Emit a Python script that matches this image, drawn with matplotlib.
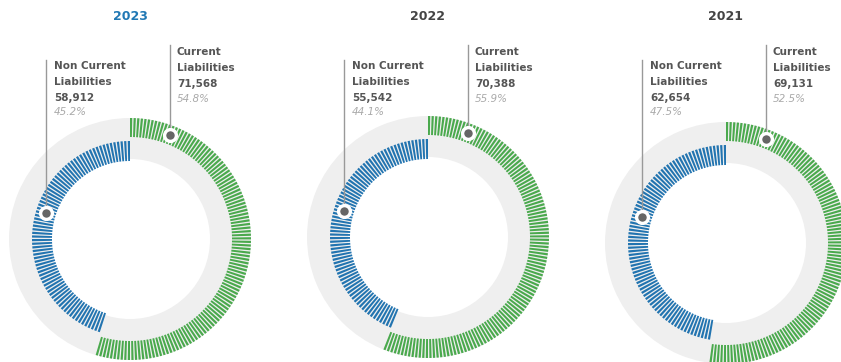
import numpy as np
import matplotlib
matplotlib.use("Agg")
import matplotlib.pyplot as plt
from matplotlib.patches import Wedge
from matplotlib.collections import PatchCollection

W, H = 841, 362

years          = ["2023", "2022", "2021"]
current        = [71568, 70388, 69131]
noncurrent     = [58912, 55542, 62654]
current_pct    = [54.8, 55.9, 52.5]
noncurrent_pct = [45.2, 44.1, 47.5]

# layout in pixels, measured from top-left
centers   = [(130, 239), (428, 237), (726, 243)]
title_col = ["#2178b4", "#444444", "#444444"]

GREEN = "#4aa94d"
BLUE  = "#2274b0"
RING  = "#efefef"
TXT   = "#555555"
PCT   = "#aaaaaa"

R_OUT, R_IN = 121, 80
G_OUT, G_IN = 121, 102
B_OUT, B_IN = 98, 78
G_STEP = 360 / 210
B_STEP = 360 / 168

fig = plt.figure(figsize=(W / 100, H / 100), dpi=100)
ax = fig.add_axes([0, 0, 1, 1])
ax.set_xlim(0, W)
ax.set_ylim(0, H)
ax.set_aspect("equal")
ax.axis("off")


def stripes(cx, cy, pct, step, r_out, r_in, sign, color):
    span = pct / 100 * 360
    starts = np.arange(0, span - step * 0.3, step)
    pats = []
    for a in starts:
        a0 = sign * a
        a1 = sign * (a + step * 0.62)
        t1, t2 = sorted([90 - a0, 90 - a1])
        pats.append(Wedge((cx, cy), r_out, t1, t2, width=r_out - r_in))
    ax.add_collection(PatchCollection(pats, facecolor=color, edgecolor="none"))


for i, yr in enumerate(years):
    cx, cyp = centers[i]
    cy = H - cyp

    ax.text(cx, H - 17, yr, ha="center", va="center", fontsize=9,
            fontweight="bold", color=title_col[i])

    ax.add_patch(Wedge((cx, cy), R_OUT, 0, 360, width=R_OUT - R_IN,
                       facecolor=RING, edgecolor="none"))
    stripes(cx, cy, current_pct[i], G_STEP, G_OUT, G_IN, 1, GREEN)
    stripes(cx, cy, noncurrent_pct[i], B_STEP, B_OUT, B_IN, -1, BLUE)

    # leader dots and lines
    rg = (G_OUT + G_IN) / 2
    gx = cx + 40
    gy = cy + np.sqrt(rg ** 2 - 40 ** 2)
    rb = (B_OUT + B_IN) / 2
    bx = cx - 84
    by = cy + np.sqrt(rb ** 2 - 84 ** 2)

    ax.plot([gx, gx], [gy, H - 45], color="#999999", lw=1, zorder=3)
    ax.plot([bx, bx], [by, H - 60], color="#999999", lw=1, zorder=3)
    for px, py in [(gx, gy), (bx, by)]:
        ax.plot(px, py, "o", ms=8.5, color="#666666", mec="white", mew=2.4, zorder=4)

    # labels
    tx = gx + 7
    ax.text(tx, H - 52, "Current", fontsize=7.5, fontweight="bold", color=TXT, va="center")
    ax.text(tx, H - 68, "Liabilities", fontsize=7.5, fontweight="bold", color=TXT, va="center")
    ax.text(tx, H - 84, f"{current[i]:,}", fontsize=7.5, fontweight="bold", color=TXT, va="center")
    ax.text(tx, H - 99, f"{current_pct[i]}%", fontsize=7.5, style="italic", color=PCT, va="center")

    tx = bx + 8
    ax.text(tx, H - 66, "Non Current", fontsize=7.5, fontweight="bold", color=TXT, va="center")
    ax.text(tx, H - 82, "Liabilities", fontsize=7.5, fontweight="bold", color=TXT, va="center")
    ax.text(tx, H - 98, f"{noncurrent[i]:,}", fontsize=7.5, fontweight="bold", color=TXT, va="center")
    ax.text(tx, H - 112, f"{noncurrent_pct[i]}%", fontsize=7.5, style="italic", color=PCT, va="center")

fig.savefig("out.png", dpi=100)
